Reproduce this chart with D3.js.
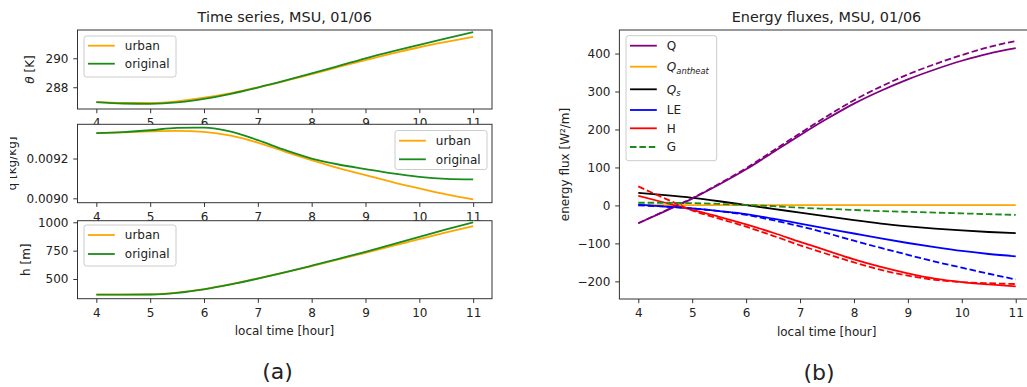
<!DOCTYPE html>
<html>
<head>
<meta charset="utf-8">
<script src="https://cdn.jsdelivr.net/npm/d3@7"></script>
<style>
  html, body { margin: 0; padding: 0; background: #fff; }
  svg { display: block; font-family: "DejaVu Sans", sans-serif; }
</style>
</head>
<body>
<svg id="fig" width="1027" height="387"></svg>
<script>
// ---- data: half-hourly model output, 04:00 to 11:00 local time ----
const hours = [4, 4.5, 5, 5.5, 6, 6.5, 7, 7.5, 8, 8.5, 9, 9.5, 10, 10.5, 11];
const xTicks = [4, 5, 6, 7, 8, 9, 10, 11];

// potential temperature [K]
const thetaUrban    = [286.97, 286.92, 286.92, 287.03, 287.28, 287.60, 288.00, 288.43, 288.90, 289.40, 289.88, 290.33, 290.76, 291.13, 291.47];
const thetaOriginal = [286.97, 286.88, 286.86, 286.95, 287.20, 287.55, 287.98, 288.45, 288.95, 289.47, 290.00, 290.48, 290.93, 291.37, 291.80];
const thetaTicks = [288, 290];

// specific humidity [kg/kg]
const qUrban    = [0.009328, 0.009331, 0.009336, 0.009339, 0.009334, 0.009315, 0.009280, 0.009235, 0.009192, 0.009152, 0.009117, 0.009082, 0.009050, 0.009020, 0.008995];
const qOriginal = [0.009328, 0.009333, 0.009342, 0.009354, 0.009355, 0.009335, 0.009292, 0.009243, 0.009200, 0.009170, 0.009147, 0.009125, 0.009108, 0.009098, 0.009095];
const qTicks = [0.0090, 0.0092];

// boundary-layer height [m]
const hUrban    = [362, 362, 364, 380, 411, 454, 505, 558, 614, 672, 731, 791, 852, 910, 966];
const hOriginal = [362, 362, 363, 378, 409, 452, 503, 558, 617, 678, 740, 805, 872, 937, 999];
const hTicks = [500, 750, 1000];

// surface energy fluxes [W/m2]; "Orig" = original scheme (dashed)
const fluxQ       = [-47, -15, 18, 55, 95, 140, 185, 228, 268, 302, 332, 358, 381, 400, 414];
const fluxQOrig   = [-47, -14, 19, 57, 98, 144, 190, 235, 277, 313, 345, 372, 396, 417, 433];
const fluxQanth   = [1, 1, 1, 1, 1, 1, 1, 1, 1, 1, 1, 1, 1, 1, 1];
const fluxQs      = [33, 27, 20, 11, 1, -9, -19, -29, -39, -48, -55, -61, -66, -70, -73];
const fluxLE      = [2, -3, -8, -15, -23, -35, -48, -61, -74, -87, -99, -110, -120, -128, -134];
const fluxLEOrig  = [0, -3, -8, -15, -25, -39, -55, -73, -93, -112, -130, -148, -164, -180, -195];
const fluxH       = [25, 7, -12, -30, -50, -72, -96, -119, -142, -162, -179, -193, -202, -208, -213];
const fluxHOrig   = [50, 18, -13, -35, -56, -80, -105, -128, -150, -170, -185, -196, -202, -205, -207];
const fluxGOrig   = [7, 7, 6, 4, 1, -2, -6, -9, -12, -15, -17, -19, -21, -23, -25];
const fluxTicks = [-200, -100, 0, 100, 200, 300, 400];

// ---- drawing ----
const svg = d3.select("#fig");
const TXT = "#222";
const SPINE = "#333";
const LW = 1.8;
const DASH = "6.5,2.9";
const GREEN = "#1a8c1a";

function makeAxes(box, yDomain, yTicks, yFmt) {
  const g = svg.append("g");
  g.append("rect")
    .attr("x", box.x0).attr("y", box.y0)
    .attr("width", box.x1 - box.x0).attr("height", box.y1 - box.y0)
    .attr("fill", "#fff");
  const x = d3.scaleLinear().domain([3.65, 11.35]).range([box.x0, box.x1]);
  const y = d3.scaleLinear().domain(yDomain).range([box.y1, box.y0]);
  const plot = g.append("g");
  const frame = g.append("g");
  frame.append("rect")
    .attr("x", box.x0).attr("y", box.y0)
    .attr("width", box.x1 - box.x0).attr("height", box.y1 - box.y0)
    .attr("fill", "none").attr("stroke", SPINE).attr("stroke-width", 1);

  const xa = frame.append("g").attr("transform", `translate(0,${box.y1})`)
    .call(d3.axisBottom(x).tickValues(xTicks).tickSize(4.2).tickPadding(5.6).tickFormat(d3.format("d")));
  const ya = frame.append("g").attr("transform", `translate(${box.x0},0)`)
    .call(d3.axisLeft(y).tickValues(yTicks).tickSize(4.2).tickPadding(4.8).tickFormat(yFmt));
  [xa, ya].forEach(a => {
    a.select(".domain").remove();
    a.attr("font-family", null).attr("font-size", 12);
    a.selectAll("line").attr("stroke", SPINE).attr("stroke-width", 1);
    a.selectAll("text").attr("fill", TXT);
  });
  const leg = g.append("g");
  return { g, x, y, plot, leg };
}

function drawLine(ax, values, color, dashed) {
  const line = d3.line()
    .x((d, i) => ax.x(hours[i]))
    .y(d => ax.y(d))
    .curve(d3.curveMonotoneX);
  ax.plot.append("path")
    .datum(values)
    .attr("d", line)
    .attr("fill", "none")
    .attr("stroke", color)
    .attr("stroke-width", LW)
    .attr("stroke-dasharray", dashed ? DASH : null);
}

function legendBox(ax, box, entries) {
  const L = ax.leg;
  L.append("rect")
    .attr("x", box.x).attr("y", box.y).attr("width", box.w).attr("height", box.h)
    .attr("rx", 2.5).attr("fill", "#fff").attr("fill-opacity", 0.8)
    .attr("stroke", "#ccc").attr("stroke-width", 1);
  entries.forEach(e => {
    const cy = box.y + e.dy;
    L.append("line")
      .attr("x1", box.x + 4).attr("x2", box.x + 30.8)
      .attr("y1", cy).attr("y2", cy)
      .attr("stroke", e.color).attr("stroke-width", LW)
      .attr("stroke-dasharray", e.dashed ? DASH : null);
    const t = L.append("text")
      .attr("x", box.x + 40.8).attr("y", cy + 4.3)
      .attr("font-size", 12).attr("fill", TXT);
    if (e.sub !== undefined) {
      t.append("tspan").attr("font-style", "italic").text(e.label);
      t.append("tspan").attr("font-style", "italic").attr("font-size", 8.4)
        .attr("dy", 2.6).text(e.sub);
    } else {
      t.text(e.label);
    }
  });
}

function ylabel(x, y, parts, clip) {
  const holder = svg.append("g");
  if (clip) holder.attr("clip-path", clip);
  const t = holder.append("text")
    .attr("transform", `translate(${x},${y}) rotate(-90)`)
    .attr("text-anchor", "middle").attr("font-size", 12).attr("fill", TXT);
  parts.forEach(p => {
    const s = t.append("tspan").text(p.t);
    if (p.italic) s.attr("font-style", "italic");
  });
  return t;
}

function label(x, y, txt, size) {
  svg.append("text").attr("x", x).attr("y", y)
    .attr("text-anchor", "middle").attr("font-size", size).attr("fill", TXT)
    .text(txt);
}

// ---------- panel (a): time series ----------
const pane = { x0: 77.5, x1: 492 };

const axT = makeAxes({ ...pane, y0: 30, y1: 109 }, [286.5, 291.95], thetaTicks, d3.format("d"));
drawLine(axT, thetaUrban, "orange");
drawLine(axT, thetaOriginal, GREEN);
legendBox(axT, { x: 84, y: 36, w: 92, h: 41 }, [
  { label: "urban", color: "orange", dy: 9.7 },
  { label: "original", color: GREEN, dy: 27.7 }
]);

const axQ = makeAxes({ ...pane, y0: 124.3, y1: 202.7 }, [0.008978, 0.009372], qTicks, d3.format(".4f"));
drawLine(axQ, qUrban, "orange");
drawLine(axQ, qOriginal, GREEN);
legendBox(axQ, { x: 395, y: 130.5, w: 92, h: 39 }, [
  { label: "urban", color: "orange", dy: 10.2 },
  { label: "original", color: GREEN, dy: 28.8 }
]);

const axH = makeAxes({ ...pane, y0: 220.7, y1: 298.7 }, [326, 1014], hTicks, d3.format("d"));
drawLine(axH, hUrban, "orange");
drawLine(axH, hOriginal, GREEN);
legendBox(axH, { x: 84, y: 225, w: 92, h: 41 }, [
  { label: "urban", color: "orange", dy: 10 },
  { label: "original", color: GREEN, dy: 29 }
]);

// axis labels, panel (a)
svg.append("defs").append("clipPath").attr("id", "figclip")
  .append("rect").attr("x", 10).attr("y", 0).attr("width", 1017).attr("height", 387);
ylabel(34.4, 69.5, [{ t: "θ", italic: true }, { t: " [K]" }]);
ylabel(15.5, 163.5, [{ t: "q [kg/kg]" }], "url(#figclip)");
ylabel(30.4, 259.7, [{ t: "h [m]" }]);
label(284.7, 21.5, "Time series, MSU, 01/06", 14.4);
label(284.5, 335, "local time [hour]", 12);
label(277.5, 378.8, "(a)", 22);

// ---------- panel (b): energy fluxes ----------
const axF = makeAxes({ x0: 619.4, x1: 1034.6, y0: 30, y1: 299 }, [-246.5, 462], fluxTicks, d3.format("d"));
drawLine(axF, fluxQ, "purple");
drawLine(axF, fluxQanth, "orange");
drawLine(axF, fluxQs, "black");
drawLine(axF, fluxLE, "blue");
drawLine(axF, fluxH, "red");
drawLine(axF, fluxQOrig, "purple", true);
drawLine(axF, fluxLEOrig, "blue", true);
drawLine(axF, fluxHOrig, "red", true);
drawLine(axF, fluxGOrig, GREEN, true);
legendBox(axF, { x: 626, y: 35.7, w: 90.7, h: 125 }, [
  { label: "Q", color: "purple", dy: 10 },
  { label: "Q", sub: "antheat", color: "orange", dy: 31 },
  { label: "Q", sub: "s", color: "black", dy: 53.6 },
  { label: "LE", color: "blue", dy: 74.3 },
  { label: "H", color: "red", dy: 92.6 },
  { label: "G", color: GREEN, dashed: true, dy: 111.3 }
]);

ylabel(568.9, 164.5, [{ t: "energy flux [W²/m]" }]);
label(826.5, 21.5, "Energy fluxes, MSU, 01/06", 14.4);
label(826.7, 335.7, "local time [hour]", 12);
label(819, 379.7, "(b)", 22);
</script>
</body>
</html>
